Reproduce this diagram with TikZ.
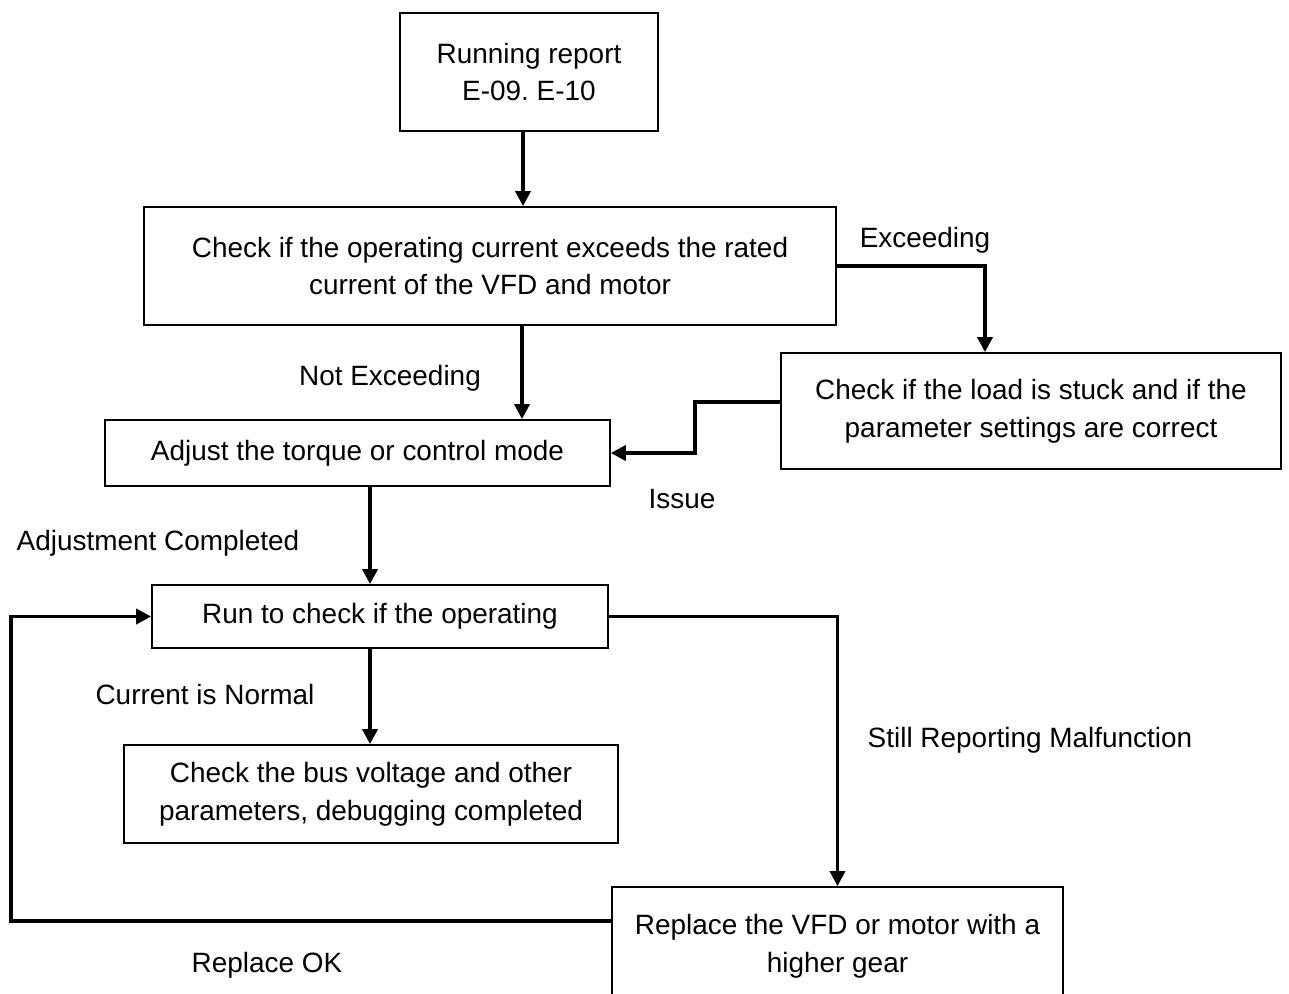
\documentclass[tikz,border=0pt]{standalone}
\usepackage{fontspec}
\setmainfont{Liberation Sans}
\usetikzlibrary{calc,arrows.meta}

\tikzset{
    box/.style={draw, line width=1pt, inner sep=0pt, align=center},
    arr/.style={line width=2pt, -{Triangle[length=8.5pt,width=8.5pt]}},
    lbl/.style={inner sep=0pt}
}

\begin{document}
\frenchspacing
\begin{tikzpicture}[x=0.02cm, y=-0.02cm, font=\fontsize{15.9pt}{21.6pt}\selectfont]
            \useasboundingbox (0,0) rectangle (1289,994);
            \clip (0,0) rectangle (1289,994);

            \node (R) at (529,72) [box, minimum width=5.16cm, minimum height=2.36cm] {Running report\\E-09. E-10};
            \node (C) at (490,266) [box, minimum width=13.84cm, minimum height=2.36cm] {Check if the operating current exceeds the rated\\current of the VFD and motor};
            \node (L) at (1031,411) [box, minimum width=10cm, minimum height=2.32cm] {Check if the load is stuck and if the\\parameter settings are correct};
            \node (A) at (357.5,453) [box, minimum width=10.1cm, minimum height=1.32cm] {Adjust the torque or control mode};
            \node (T) at (380,616.5) [box, minimum width=9.12cm, minimum height=1.26cm] {Run to check if the operating};
            \node (B) at (371,794) [box, minimum width=9.88cm, minimum height=1.96cm] {Check the bus voltage and other\\parameters, debugging completed};
            \node (V) at (837.5,946) [box, minimum width=9.02cm, minimum height=2.36cm] {Replace the VFD or motor with a\\higher gear};

            \coordinate (c1) at (523,0);
            \coordinate (c2) at (522,0);
            \coordinate (c3) at (370,0);

            \draw [arr] (R.south -| c1) -- (C.north -| c1);
            \draw [arr] (C.east) -| ($(L.north) + (-46,0)$);
            \draw [arr] (C.south -| c2) -- (A.north -| c2);
            \draw [arr] ($(L.west) + (0,-9)$) -- ++(-85,0) |- (A.east);
            \draw [arr] (A.south -| c3) -- (T.north -| c3);
            \draw [arr] (T.south -| c3) -- (B.north -| c3);
            \draw [arr] (T.east) -| (V.north);
            \draw [arr] ($(V.west) + (0,-25)$) -- ++(-600,0) |- (T.west);

            \node (e) at (925,240) [lbl] {Exceeding};
            \node (ne) at (390,378) [lbl] {Not Exceeding};
            \node (i) at (682,499) [lbl] {Issue};
            \node (ac) at (158,543) [lbl] {Adjustment Completed};
            \node (cn) at (205,695) [lbl] {Current is Normal};
            \node (sr) at (1030,740) [lbl] {Still Reporting Malfunction};
            \node (ok) at (267,965) [lbl] {Replace OK};

        \end{tikzpicture}
\end{document}
